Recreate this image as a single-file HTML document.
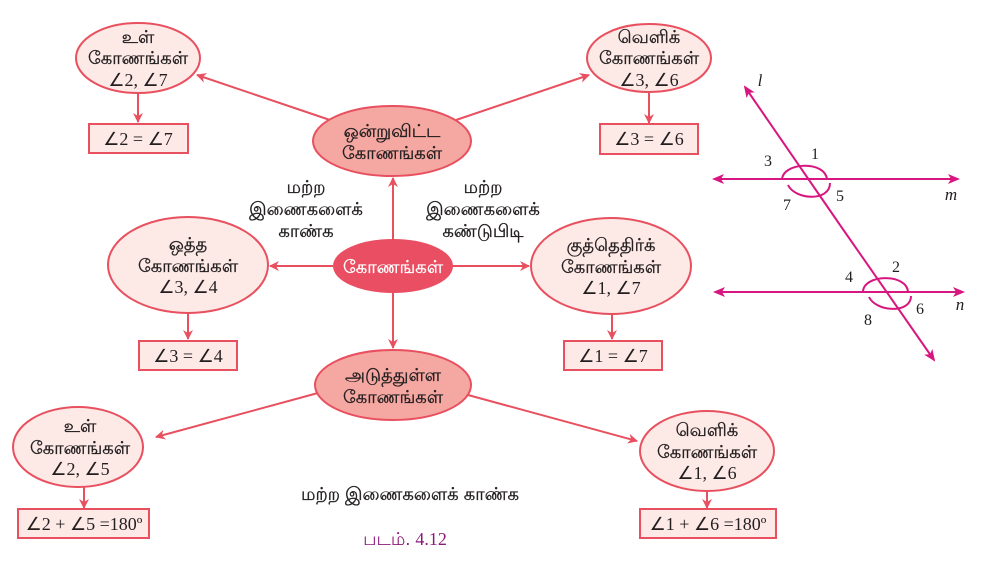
<!DOCTYPE html>
<html><head><meta charset="utf-8"><style>
html,body{margin:0;padding:0;background:#fff;}
svg{display:block;}
text{font-family:"Liberation Sans","Noto Sans CJK SC",sans-serif;font-size:18px;fill:#231f20;text-anchor:middle;stroke:#231f20;stroke-width:0.35px;}
.m,.g,.gi{stroke:none;}
.m{font-family:"Liberation Serif",serif;font-size:18px;}
.g{font-family:"Liberation Serif",serif;font-size:16px;}
.gi{font-family:"Liberation Serif",serif;font-size:17px;font-style:italic;}
</style></head><body>
<svg width="981" height="567" viewBox="0 0 981 567" xmlns="http://www.w3.org/2000/svg">
<defs>
<marker id="a" markerWidth="10" markerHeight="10" refX="9" refY="5" orient="auto" markerUnits="userSpaceOnUse"><path d="M0,0 L10,5 L0,10 L3,5 Z" fill="#e8505f"/></marker>
<marker id="p" markerWidth="12" markerHeight="10" refX="10" refY="5" orient="auto" markerUnits="userSpaceOnUse"><path d="M0,0 L12,5 L0,10 L3,5 Z" fill="#d8167f"/></marker>
</defs>
<g stroke="#e8505f" stroke-width="2" fill="none">
<line x1="393" y1="240" x2="393" y2="178" marker-end="url(#a)"/>
<line x1="333" y1="266" x2="270" y2="266" marker-end="url(#a)"/>
<line x1="452" y1="266" x2="529" y2="266" marker-end="url(#a)"/>
<line x1="393" y1="292" x2="393" y2="348" marker-end="url(#a)"/>
<line x1="330" y1="120" x2="197" y2="75" marker-end="url(#a)"/>
<line x1="456" y1="120" x2="589" y2="75" marker-end="url(#a)"/>
<line x1="318" y1="393" x2="156" y2="437" marker-end="url(#a)"/>
<line x1="468" y1="395" x2="637" y2="441" marker-end="url(#a)"/>
<line x1="138" y1="93" x2="138" y2="122" marker-end="url(#a)"/>
<line x1="649" y1="92" x2="649" y2="123" marker-end="url(#a)"/>
<line x1="188" y1="313" x2="188" y2="339" marker-end="url(#a)"/>
<line x1="612" y1="314" x2="612" y2="339" marker-end="url(#a)"/>
<line x1="84" y1="487" x2="84" y2="508" marker-end="url(#a)"/>
<line x1="707" y1="491" x2="707" y2="508" marker-end="url(#a)"/>
</g>
<g stroke="#e8505f" stroke-width="2" fill="#fde9e6">
<ellipse cx="138" cy="58" rx="62" ry="35"/>
<ellipse cx="649" cy="58" rx="62" ry="34"/>
<ellipse cx="188" cy="265" rx="80" ry="48"/>
<ellipse cx="611" cy="266" rx="80" ry="48"/>
<ellipse cx="78" cy="447" rx="65" ry="40"/>
<ellipse cx="707" cy="451" rx="67" ry="40"/>
<ellipse cx="392" cy="141" rx="79" ry="35" fill="#f5a7a1"/>
<ellipse cx="393" cy="385" rx="78" ry="35" fill="#f5a7a1"/>
<ellipse cx="393" cy="266" rx="59" ry="26" fill="#ea4e62" stroke="#ea4e62"/>
<rect x="89" y="124" width="99" height="29"/>
<rect x="600" y="124" width="98" height="30"/>
<rect x="139" y="341" width="98" height="29"/>
<rect x="564" y="341" width="98" height="29"/>
<rect x="18" y="509" width="131" height="29"/>
<rect x="640" y="509" width="136" height="29"/>
</g>
<text x="138" y="43">உள்</text><text x="138" y="64">கோணங்கள்</text><text class="m" x="138" y="86">∠2, ∠7</text>
<text x="649" y="43">வெளிக்</text><text x="649" y="64">கோணங்கள்</text><text class="m" x="649" y="86">∠3, ∠6</text>
<text x="188" y="250">ஒத்த</text><text x="188" y="272">கோணங்கள்</text><text class="m" x="188" y="293">∠3, ∠4</text>
<text x="611" y="251">குத்தெதிர்க்</text><text x="611" y="273">கோணங்கள்</text><text class="m" x="611" y="294">∠1, ∠7</text>
<text x="80" y="432">உள்</text><text x="80" y="454">கோணங்கள்</text><text class="m" x="80" y="475">∠2, ∠5</text>
<text x="707" y="436">வெளிக்</text><text x="707" y="458">கோணங்கள்</text><text class="m" x="707" y="479">∠1, ∠6</text>
<text x="392" y="137">ஒன்றுவிட்ட</text><text x="392" y="159">கோணங்கள்</text>
<text x="393" y="381">அடுத்துள்ள</text><text x="393" y="403">கோணங்கள்</text>
<text x="393" y="273" style="fill:#fff;stroke:#fff">கோணங்கள்</text>
<text x="306" y="193">மற்ற</text><text x="306" y="215">இணைகளைக்</text><text x="306" y="237">காண்க</text>
<text x="483" y="193">மற்ற</text><text x="483" y="215">இணைகளைக்</text><text x="483" y="237">கண்டுபிடி</text>
<text x="410" y="500">மற்ற இணைகளைக் காண்க</text>
<text class="m" x="138" y="145">∠2 = ∠7</text>
<text class="m" x="649" y="145">∠3 = ∠6</text>
<text class="m" x="188" y="362">∠3 = ∠4</text>
<text class="m" x="613" y="362">∠1 = ∠7</text>
<text class="m" x="84" y="530">∠2 + ∠5 =180º</text>
<text class="m" x="708" y="530">∠1 + ∠6 =180º</text>
<text x="405" y="545" style="fill:#8a1a78;stroke:none;font-size:18px">படம். <tspan style="font-family:'Liberation Serif',serif">4.12</tspan></text>
<g stroke="#d8167f" stroke-width="2" fill="none">
<line x1="800" y1="179" x2="714" y2="179" marker-end="url(#p)"/>
<line x1="800" y1="179" x2="958" y2="179" marker-end="url(#p)"/>
<line x1="880" y1="292" x2="715" y2="292" marker-end="url(#p)"/>
<line x1="880" y1="292" x2="963" y2="292" marker-end="url(#p)"/>
<line x1="840" y1="225" x2="745" y2="87" marker-end="url(#p)"/>
<line x1="840" y1="225" x2="934" y2="360" marker-end="url(#p)"/>
<path d="M782,180 C782,162 826,160 827,180"/>
<path d="M788,185 C795,200 830,202 830,183"/>
<path d="M863,292 C863,274 907,273 908,292"/>
<path d="M869,297 C876,312 911,314 911,296"/>
</g>
<text class="gi" x="760" y="86">l</text>
<text class="g" x="768" y="166">3</text><text class="g" x="815" y="159">1</text>
<text class="g" x="787" y="210">7</text><text class="g" x="840" y="201">5</text>
<text class="gi" x="951" y="200">m</text>
<text class="g" x="849" y="282">4</text><text class="g" x="896" y="272">2</text>
<text class="g" x="868" y="325">8</text><text class="g" x="920" y="314">6</text>
<text class="gi" x="960" y="310">n</text>
</svg>
</body></html>
